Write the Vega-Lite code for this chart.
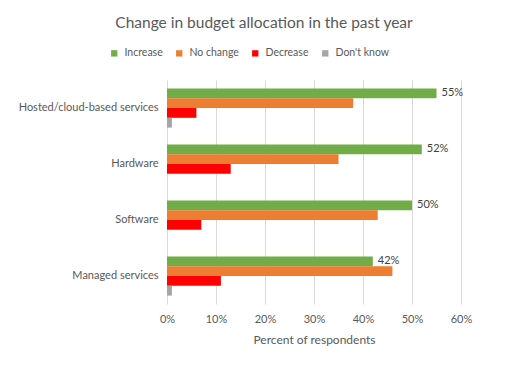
{
  "$schema": "https://vega.github.io/schema/vega-lite/v6.json",
  "autosize": "none",
  "width": 294,
  "height": 224,
  "padding": {"left": 167, "top": 80, "right": 44, "bottom": 61},
  "background": "white",
  "config": {"view": {"stroke": null}, "font": "Lato"},
  "title": {"text": "Change in budget allocation in the past year", "fontSize": 15.5, "fontWeight": "normal", "color": "#595959", "anchor": "middle", "dx": -50, "offset": 17},
  "data": {"values": [
    {"service": "Hosted/cloud-based services", "response": "Increase", "pct": 0.55},
    {"service": "Hosted/cloud-based services", "response": "No change", "pct": 0.38},
    {"service": "Hosted/cloud-based services", "response": "Decrease", "pct": 0.06},
    {"service": "Hosted/cloud-based services", "response": "Don't know", "pct": 0.01},
    {"service": "Hardware", "response": "Increase", "pct": 0.52},
    {"service": "Hardware", "response": "No change", "pct": 0.35},
    {"service": "Hardware", "response": "Decrease", "pct": 0.13},
    {"service": "Hardware", "response": "Don't know", "pct": 0.0},
    {"service": "Software", "response": "Increase", "pct": 0.50},
    {"service": "Software", "response": "No change", "pct": 0.43},
    {"service": "Software", "response": "Decrease", "pct": 0.07},
    {"service": "Software", "response": "Don't know", "pct": 0.0},
    {"service": "Managed services", "response": "Increase", "pct": 0.42},
    {"service": "Managed services", "response": "No change", "pct": 0.46},
    {"service": "Managed services", "response": "Decrease", "pct": 0.11},
    {"service": "Managed services", "response": "Don't know", "pct": 0.01}
  ]},
  "encoding": {
    "y": {"field": "service", "type": "nominal",
      "sort": ["Hosted/cloud-based services", "Hardware", "Software", "Managed services"],
      "scale": {"paddingInner": 0.3, "paddingOuter": 0.15},
      "axis": {"title": null, "ticks": false, "domain": false, "labelPadding": 9, "labelFontSize": 11, "labelColor": "#595959", "labelFont": "Lato"}},
    "yOffset": {"field": "response", "type": "nominal", "sort": ["Increase", "No change", "Decrease", "Don't know"]},
    "x": {"field": "pct", "type": "quantitative",
      "scale": {"domain": [0, 0.6]},
      "axis": {"format": "%", "values": [0, 0.1, 0.2, 0.3, 0.4, 0.5, 0.6], "labelFlush": false, "title": "Percent of respondents", "titleFontWeight": "normal", "titleFontSize": 12, "titleColor": "#595959", "titlePadding": 10, "labelFontSize": 11, "labelColor": "#595959", "labelPadding": 9, "ticks": false, "domain": false, "gridColor": "#d9d9d9", "gridWidth": 1}}
  },
  "layer": [
    {
      "mark": {"type": "bar"},
      "encoding": {
        "color": {"field": "response", "type": "nominal",
          "scale": {"domain": ["Increase", "No change", "Decrease", "Don't know"], "range": ["#70AD47", "#ED7D31", "#FF0000", "#A5A5A5"]},
          "legend": {"title": null, "orient": "none", "direction": "horizontal", "legendX": -58, "legendY": -32, "symbolType": "square", "symbolSize": 40, "symbolStrokeWidth": 0, "labelFontSize": 10.5, "labelColor": "#595959", "labelOffset": 5, "columnPadding": 11}}
      }
    },
    {
      "transform": [{"filter": "datum.response === 'Increase'"}],
      "mark": {"type": "text", "align": "left", "dx": 5, "fontSize": 11, "color": "#404040"},
      "encoding": {"text": {"field": "pct", "type": "quantitative", "format": ".0%"}}
    }
  ]
}
